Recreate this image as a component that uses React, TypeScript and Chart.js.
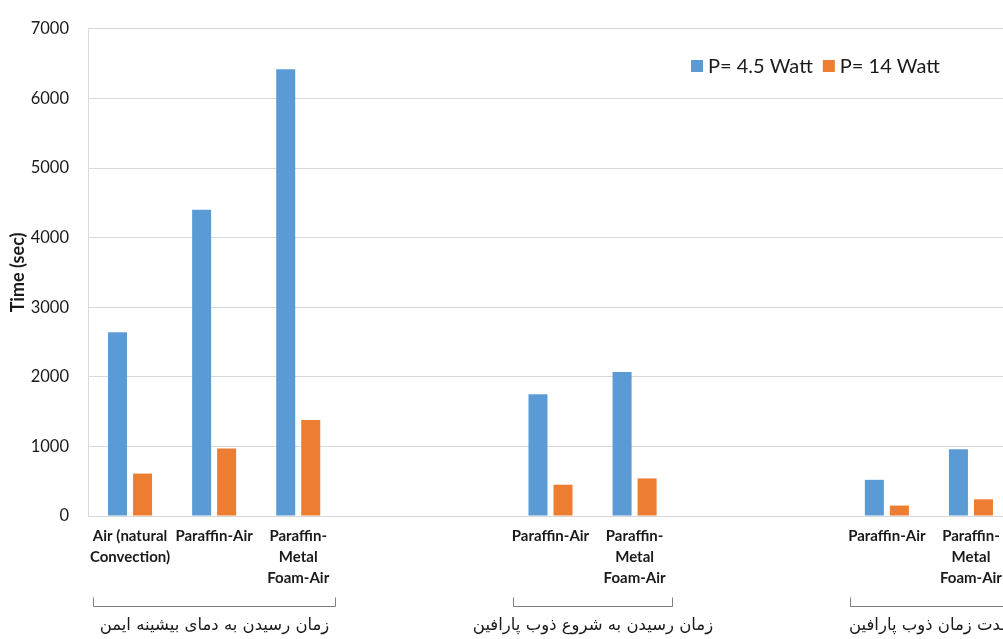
import React, { useEffect, useRef } from "react";
import { Chart, registerables } from "chart.js";

Chart.register(...registerables);

// Category labels (multi-line where the label wraps), empty slots separate the groups
const categories: (string | string[])[] = [
  ["Air (natural", "Convection)"],
  "Paraffin-Air",
  ["Paraffin-", "Metal", "Foam-Air"],
  "",
  "",
  "Paraffin-Air",
  ["Paraffin-", "Metal", "Foam-Air"],
  "",
  "",
  "Paraffin-Air",
  ["Paraffin-", "Metal", "Foam-Air"],
];

const seriesNames = ["P= 4.5 Watt", "P= 14 Watt"];
const power45: (number | null)[] = [2640, 4400, 6420, null, null, 1750, 2070, null, null, 520, 960];
const power14: (number | null)[] = [610, 970, 1380, null, null, 450, 540, null, null, 150, 240];

const groupLabels = [
  "زمان رسیدن به دمای بیشینه ایمن",
  "زمان رسیدن به شروع ذوب پارافین",
  "مدت زمان ذوب پارافین",
];
const groupFirst = [0, 5, 9];
const groupLast = [2, 6, 10];

const yTicks = [0, 1000, 2000, 3000, 4000, 5000, 6000, 7000];

const BLUE = "#5B9BD5";
const ORANGE = "#ED7D31";
const AXIS_GRAY = "#d9d9d9";
const TEXT = "#1a1a1a";

// Second-level category brackets with their Persian group names
const groupAxisPlugin = {
  id: "groupAxis",
  afterDraw(chart: any) {
    const { ctx } = chart;
    const x = chart.scales.x;
    const half = (x.getPixelForValue(1) - x.getPixelForValue(0)) / 2;
    ctx.save();
    ctx.strokeStyle = "#7f7f7f";
    ctx.lineWidth = 1;
    ctx.fillStyle = TEXT;
    ctx.font = "16.5px 'DejaVu Sans'";
    ctx.textAlign = "center";
    ctx.textBaseline = "middle";
    for (let i = 0; i < groupLabels.length; i++) {
      const left = Math.round(x.getPixelForValue(groupFirst[i]) - half + 5) + 0.5;
      const right = Math.round(x.getPixelForValue(groupLast[i]) + half - 5) + 0.5;
      const yb = 606.5;
      ctx.beginPath();
      ctx.moveTo(left, yb - 9);
      ctx.lineTo(left, yb);
      ctx.lineTo(right, yb);
      ctx.lineTo(right, yb - 9);
      ctx.stroke();
      ctx.fillText(groupLabels[i], (left + right) / 2, 626);
    }
    ctx.restore();
  },
};

// Legend placed inside the plot area, top right
const insideLegendPlugin = {
  id: "insideLegend",
  afterDraw(chart: any) {
    const { ctx } = chart;
    ctx.save();
    ctx.font = "20px Lato";
    ctx.textBaseline = "middle";
    ctx.textAlign = "left";
    let cx = 691;
    const cy = 66;
    const colors = [BLUE, ORANGE];
    chart.data.datasets.forEach((ds: any, i: number) => {
      ctx.fillStyle = colors[i];
      ctx.fillRect(cx, cy - 6, 12, 12);
      ctx.fillStyle = TEXT;
      ctx.fillText(ds.label, cx + 17, cy + 1);
      cx += 17 + ctx.measureText(ds.label).width + 10;
    });
    ctx.restore();
  },
};

export default function App() {
  const canvasRef = useRef<HTMLCanvasElement | null>(null);

  useEffect(() => {
    document.body.style.margin = "0";
    document.body.style.overflow = "hidden";
    const canvas = canvasRef.current;
    if (!canvas) return;
    const chart = new Chart(canvas, {
      type: "bar",
      data: {
        labels: categories,
        datasets: [
          {
            label: seriesNames[0],
            data: power45,
            backgroundColor: BLUE,
            categoryPercentage: 0.595,
            barPercentage: 0.76,
          },
          {
            label: seriesNames[1],
            data: power14,
            backgroundColor: ORANGE,
            categoryPercentage: 0.595,
            barPercentage: 0.76,
          },
        ],
      },
      options: {
        animation: false,
        responsive: false,
        maintainAspectRatio: false,
        layout: { padding: { left: 0, top: 26, right: 17, bottom: 0 } },
        plugins: {
          legend: { display: false },
          tooltip: { enabled: false },
        },
        scales: {
          x: {
            grid: { display: false, drawTicks: false },
            border: { display: true, color: AXIS_GRAY, width: 1 },
            ticks: {
              color: TEXT,
              font: { family: "Lato", size: 15, weight: "bold", lineHeight: 1.4 },
              padding: 10,
              maxRotation: 0,
              minRotation: 0,
              autoSkip: false,
            },
            afterFit(scale: any) {
              scale.height = 123;
            },
          },
          y: {
            min: 0,
            max: 7000,
            afterBuildTicks(scale: any) {
              scale.ticks = yTicks.map((v) => ({ value: v }));
            },
            grid: { color: AXIS_GRAY, drawTicks: false },
            border: { display: true, color: AXIS_GRAY, width: 1 },
            ticks: {
              color: TEXT,
              font: { family: "Lato", size: 16.5 },
              padding: 19,
              callback: (v: any) => String(v),
            },
            title: {
              display: true,
              text: "Time (sec)",
              color: TEXT,
              font: { family: "Lato", size: 18, weight: "bold", lineHeight: 1.2 },
              padding: { top: 7, bottom: 0 },
            },
            afterFit(scale: any) {
              scale.width = 88;
            },
          },
        },
      },
      plugins: [groupAxisPlugin, insideLegendPlugin],
    });
    return () => chart.destroy();
  }, []);

  return (
    <div style={{ position: "fixed", left: 0, top: 0, width: 1030, height: 639, background: "#fff" }}>
      <canvas ref={canvasRef} width={1030} height={639} style={{ display: "block" }} />
    </div>
  );
}
